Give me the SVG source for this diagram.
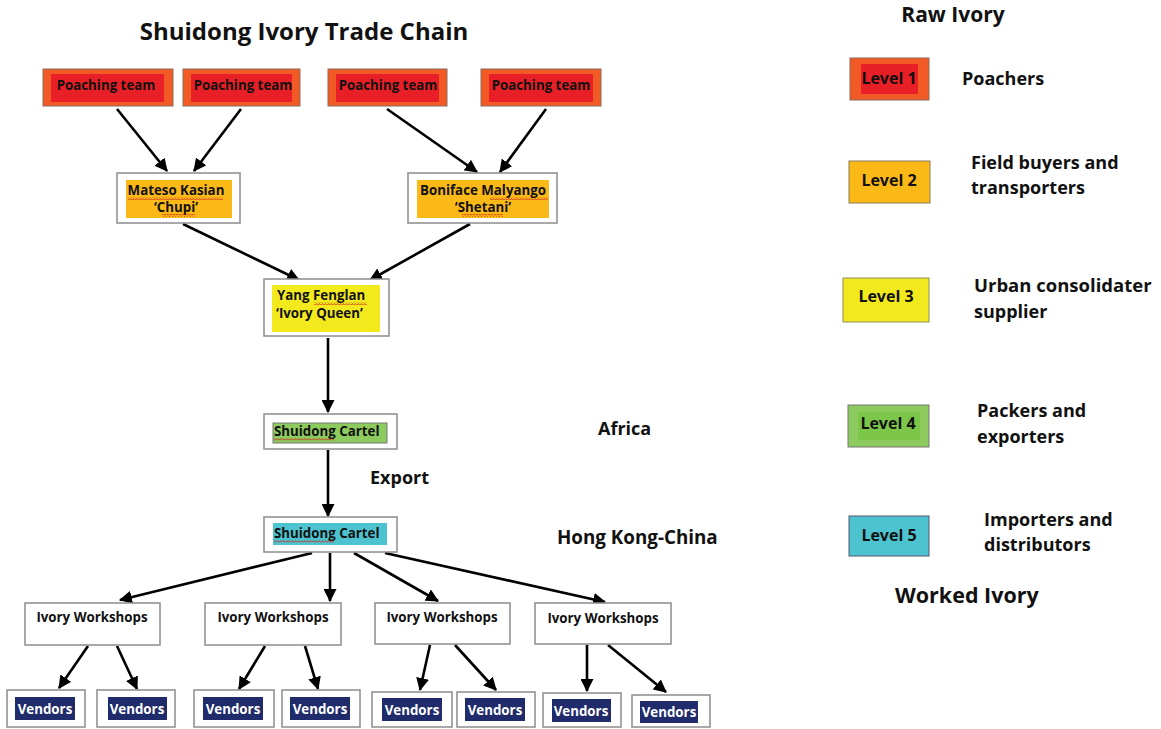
<svg xmlns="http://www.w3.org/2000/svg" width="1161" height="729" viewBox="0 0 1161 729">
<style>
text{font-family:"Open Sans","Liberation Sans",sans-serif;font-weight:bold;fill:#111}
.box{fill:#fff;stroke:#8c8c8c;stroke-width:1.5}
.l1o{fill:#f15a24;stroke:#8c6a5a;stroke-width:1}
.l1i{fill:#e91f27}
.l2{fill:#fbb917}
.l3{fill:#f3ea1e}
.l4o{fill:#8ecb5e;stroke:#777;stroke-width:1}
.l4i{fill:#7cc64a}
.l5{fill:#4ec3d0}
.nav{fill:#1f2b6b}
.n{font-size:13.3px;text-anchor:middle}
.w{font-size:13.3px;text-anchor:middle;fill:#fff}
.lab{font-size:18px}
.leg{font-size:16px;text-anchor:middle}
.sq{fill:url(#wave)}
#conn line{stroke:#000;stroke-width:2.6;marker-end:url(#ah)}
</style>
<defs>
<marker id="ah" viewBox="0 0 12 12" refX="11" refY="6" markerWidth="13" markerHeight="13" markerUnits="userSpaceOnUse" orient="auto">
<path d="M0,0 L12,6 L0,12 z" fill="#000"/>
</marker>
<pattern id="wave" width="3" height="3" patternUnits="userSpaceOnUse">
<polyline points="0,2.5 1.5,0.5 3,2.5" fill="none" stroke="#d0281e" stroke-width="0.8"/>
</pattern>
</defs>
<rect width="1161" height="729" fill="#fff"/>

<text x="304" y="40" font-size="24" text-anchor="middle">Shuidong Ivory Trade Chain</text>

<g id="conn">
<line x1="117" y1="109" x2="167" y2="171"/>
<line x1="241" y1="109" x2="194" y2="171"/>
<line x1="387" y1="109" x2="477" y2="172"/>
<line x1="546" y1="109" x2="500" y2="172"/>
<line x1="183" y1="224" x2="299" y2="280"/>
<line x1="470" y1="224" x2="370" y2="280"/>
<line x1="328" y1="338" x2="328" y2="412"/>
<line x1="328" y1="450" x2="328" y2="516"/>
<line x1="312" y1="553" x2="120" y2="600"/>
<line x1="330" y1="553" x2="330" y2="601"/>
<line x1="354" y1="553" x2="438" y2="601"/>
<line x1="385" y1="553" x2="605" y2="602"/>
<line x1="88" y1="646" x2="59" y2="688"/>
<line x1="117" y1="646" x2="137" y2="689"/>
<line x1="265" y1="646" x2="239" y2="689"/>
<line x1="305" y1="646" x2="318" y2="689"/>
<line x1="430" y1="645" x2="420" y2="690"/>
<line x1="455" y1="645" x2="496" y2="690"/>
<line x1="587" y1="645" x2="587" y2="691"/>
<line x1="608" y1="645" x2="666" y2="692"/>
</g>

<g id="poach1"><rect class="l1o" x="43" y="69" width="130" height="37"/><rect class="l1i" x="51" y="74" width="113" height="28"/><text class="n" x="106" y="90">Poaching team</text></g>
<g id="poach2"><rect class="l1o" x="183" y="69" width="117" height="37"/><rect class="l1i" x="191" y="74" width="101" height="28"/><text class="n" x="243" y="90">Poaching team</text></g>
<g id="poach3"><rect class="l1o" x="328" y="69" width="119" height="37"/><rect class="l1i" x="336" y="74" width="103" height="28"/><text class="n" x="388" y="90">Poaching team</text></g>
<g id="poach4"><rect class="l1o" x="481" y="69" width="120" height="37"/><rect class="l1i" x="489" y="74" width="104" height="28"/><text class="n" x="541" y="90">Poaching team</text></g>

<g id="mateso"><rect class="box" x="117" y="173" width="123" height="50"/><rect class="l2" x="126" y="180" width="106" height="38"/>
<text class="n" x="176" y="195">Mateso Kasian</text><text class="n" x="176" y="212">‘Chupi’</text>
<rect class="sq" x="128" y="197" width="95" height="3"/><rect class="sq" x="162" y="214" width="33" height="3"/></g>

<g id="boniface"><rect class="box" x="408" y="173" width="149" height="50"/><rect class="l2" x="417" y="180" width="132" height="38"/>
<text class="n" x="483" y="195">Boniface Malyango</text><text class="n" x="483" y="212">‘Shetani’</text>
<rect class="sq" x="490" y="197" width="58" height="3"/><rect class="sq" x="462" y="214" width="41" height="3"/></g>

<g id="yang"><rect class="box" x="264" y="279" width="125" height="57"/><rect class="l3" x="272" y="285" width="108" height="47"/>
<text x="277" y="300" font-size="13.3">Yang Fenglan</text><text x="276" y="318" font-size="13.3">‘Ivory Queen’</text>
<rect class="sq" x="314" y="302" width="53" height="3"/></g>

<g id="cartel4"><rect class="box" x="264" y="414" width="133" height="35"/><rect class="l4o" x="273" y="423" width="114" height="20" stroke="none"/>
<text x="274" y="436" font-size="13.3">Shuidong Cartel</text><rect class="sq" x="274" y="438" width="60" height="3"/></g>

<text class="lab" x="370" y="484">Export</text>

<g id="cartel5"><rect class="box" x="264" y="517" width="133" height="35"/><rect class="l5" x="273" y="523" width="114" height="22"/>
<text x="274" y="538" font-size="13.3">Shuidong Cartel</text><rect class="sq" x="274" y="540" width="60" height="3"/></g>

<text class="lab" x="598" y="435">Africa</text>
<text class="lab" x="557" y="544" style="font-size:18.8px">Hong Kong-China</text>

<g id="ws1"><rect class="box" x="25" y="603" width="135" height="42"/><text class="n" x="92" y="622">Ivory Workshops</text></g>
<g id="ws2"><rect class="box" x="205" y="603" width="136" height="42"/><text class="n" x="273" y="622">Ivory Workshops</text></g>
<g id="ws3"><rect class="box" x="375" y="603" width="135" height="41"/><text class="n" x="442" y="622">Ivory Workshops</text></g>
<g id="ws4"><rect class="box" x="535" y="603" width="136" height="41"/><text class="n" x="603" y="623">Ivory Workshops</text></g>

<g id="v1"><rect class="box" x="7" y="690" width="78" height="37"/><rect class="nav" x="15" y="697" width="60" height="23"/><text class="w" x="45" y="714">Vendors</text></g>
<g id="v2"><rect class="box" x="97" y="690" width="78" height="37"/><rect class="nav" x="108" y="697" width="59" height="23"/><text class="w" x="137" y="714">Vendors</text></g>
<g id="v3"><rect class="box" x="194" y="690" width="80" height="37"/><rect class="nav" x="203" y="697" width="60" height="23"/><text class="w" x="233" y="714">Vendors</text></g>
<g id="v4"><rect class="box" x="282" y="690" width="78" height="37"/><rect class="nav" x="290" y="697" width="60" height="23"/><text class="w" x="320" y="714">Vendors</text></g>
<g id="v5"><rect class="box" x="372" y="692" width="80" height="35"/><rect class="nav" x="382" y="698" width="60" height="23"/><text class="w" x="412" y="715">Vendors</text></g>
<g id="v6"><rect class="box" x="457" y="692" width="78" height="35"/><rect class="nav" x="465" y="698" width="60" height="23"/><text class="w" x="495" y="715">Vendors</text></g>
<g id="v7"><rect class="box" x="543" y="693" width="78" height="34"/><rect class="nav" x="552" y="699" width="59" height="23"/><text class="w" x="581" y="716">Vendors</text></g>
<g id="v8"><rect class="box" x="632" y="695" width="78" height="32"/><rect class="nav" x="640" y="701" width="58" height="22"/><text class="w" x="669" y="717">Vendors</text></g>

<g id="legend">
<text x="953" y="22" font-size="21" text-anchor="middle">Raw Ivory</text>
<g id="lv1"><rect class="l1o" x="850" y="58" width="79" height="42"/><rect class="l1i" x="861" y="64" width="57" height="30"/><text class="leg" x="889" y="84">Level 1</text></g>
<text class="lab" x="962" y="85">Poachers</text>
<g id="lv2"><rect class="l2" x="849" y="161" width="81" height="42" stroke="#8c7a5a" stroke-width="1"/><text class="leg" x="889" y="186">Level 2</text></g>
<text class="lab" x="971" y="169">Field buyers and</text><text class="lab" x="971" y="194">transporters</text>
<g id="lv3"><rect class="l3" x="843" y="278" width="86" height="44" stroke="#8c8c5a" stroke-width="1"/><text class="leg" x="886" y="302">Level 3</text></g>
<text class="lab" x="974" y="292" style="font-size:18.5px">Urban consolidater</text><text class="lab" x="974" y="318">supplier</text>
<g id="lv4"><rect class="l4o" x="848" y="405" width="81" height="42"/><rect class="l4i" x="858" y="412" width="62" height="28"/><text class="leg" x="888" y="429">Level 4</text></g>
<text class="lab" x="977" y="417">Packers and</text><text class="lab" x="977" y="443">exporters</text>
<g id="lv5"><rect class="l5" x="849" y="516" width="80" height="40" stroke="#557" stroke-width="1"/><text class="leg" x="889" y="541">Level 5</text></g>
<text class="lab" x="984" y="526">Importers and</text><text class="lab" x="984" y="551">distributors</text>
<text x="895" y="603" font-size="21.5">Worked Ivory</text>
</g>
</svg>
